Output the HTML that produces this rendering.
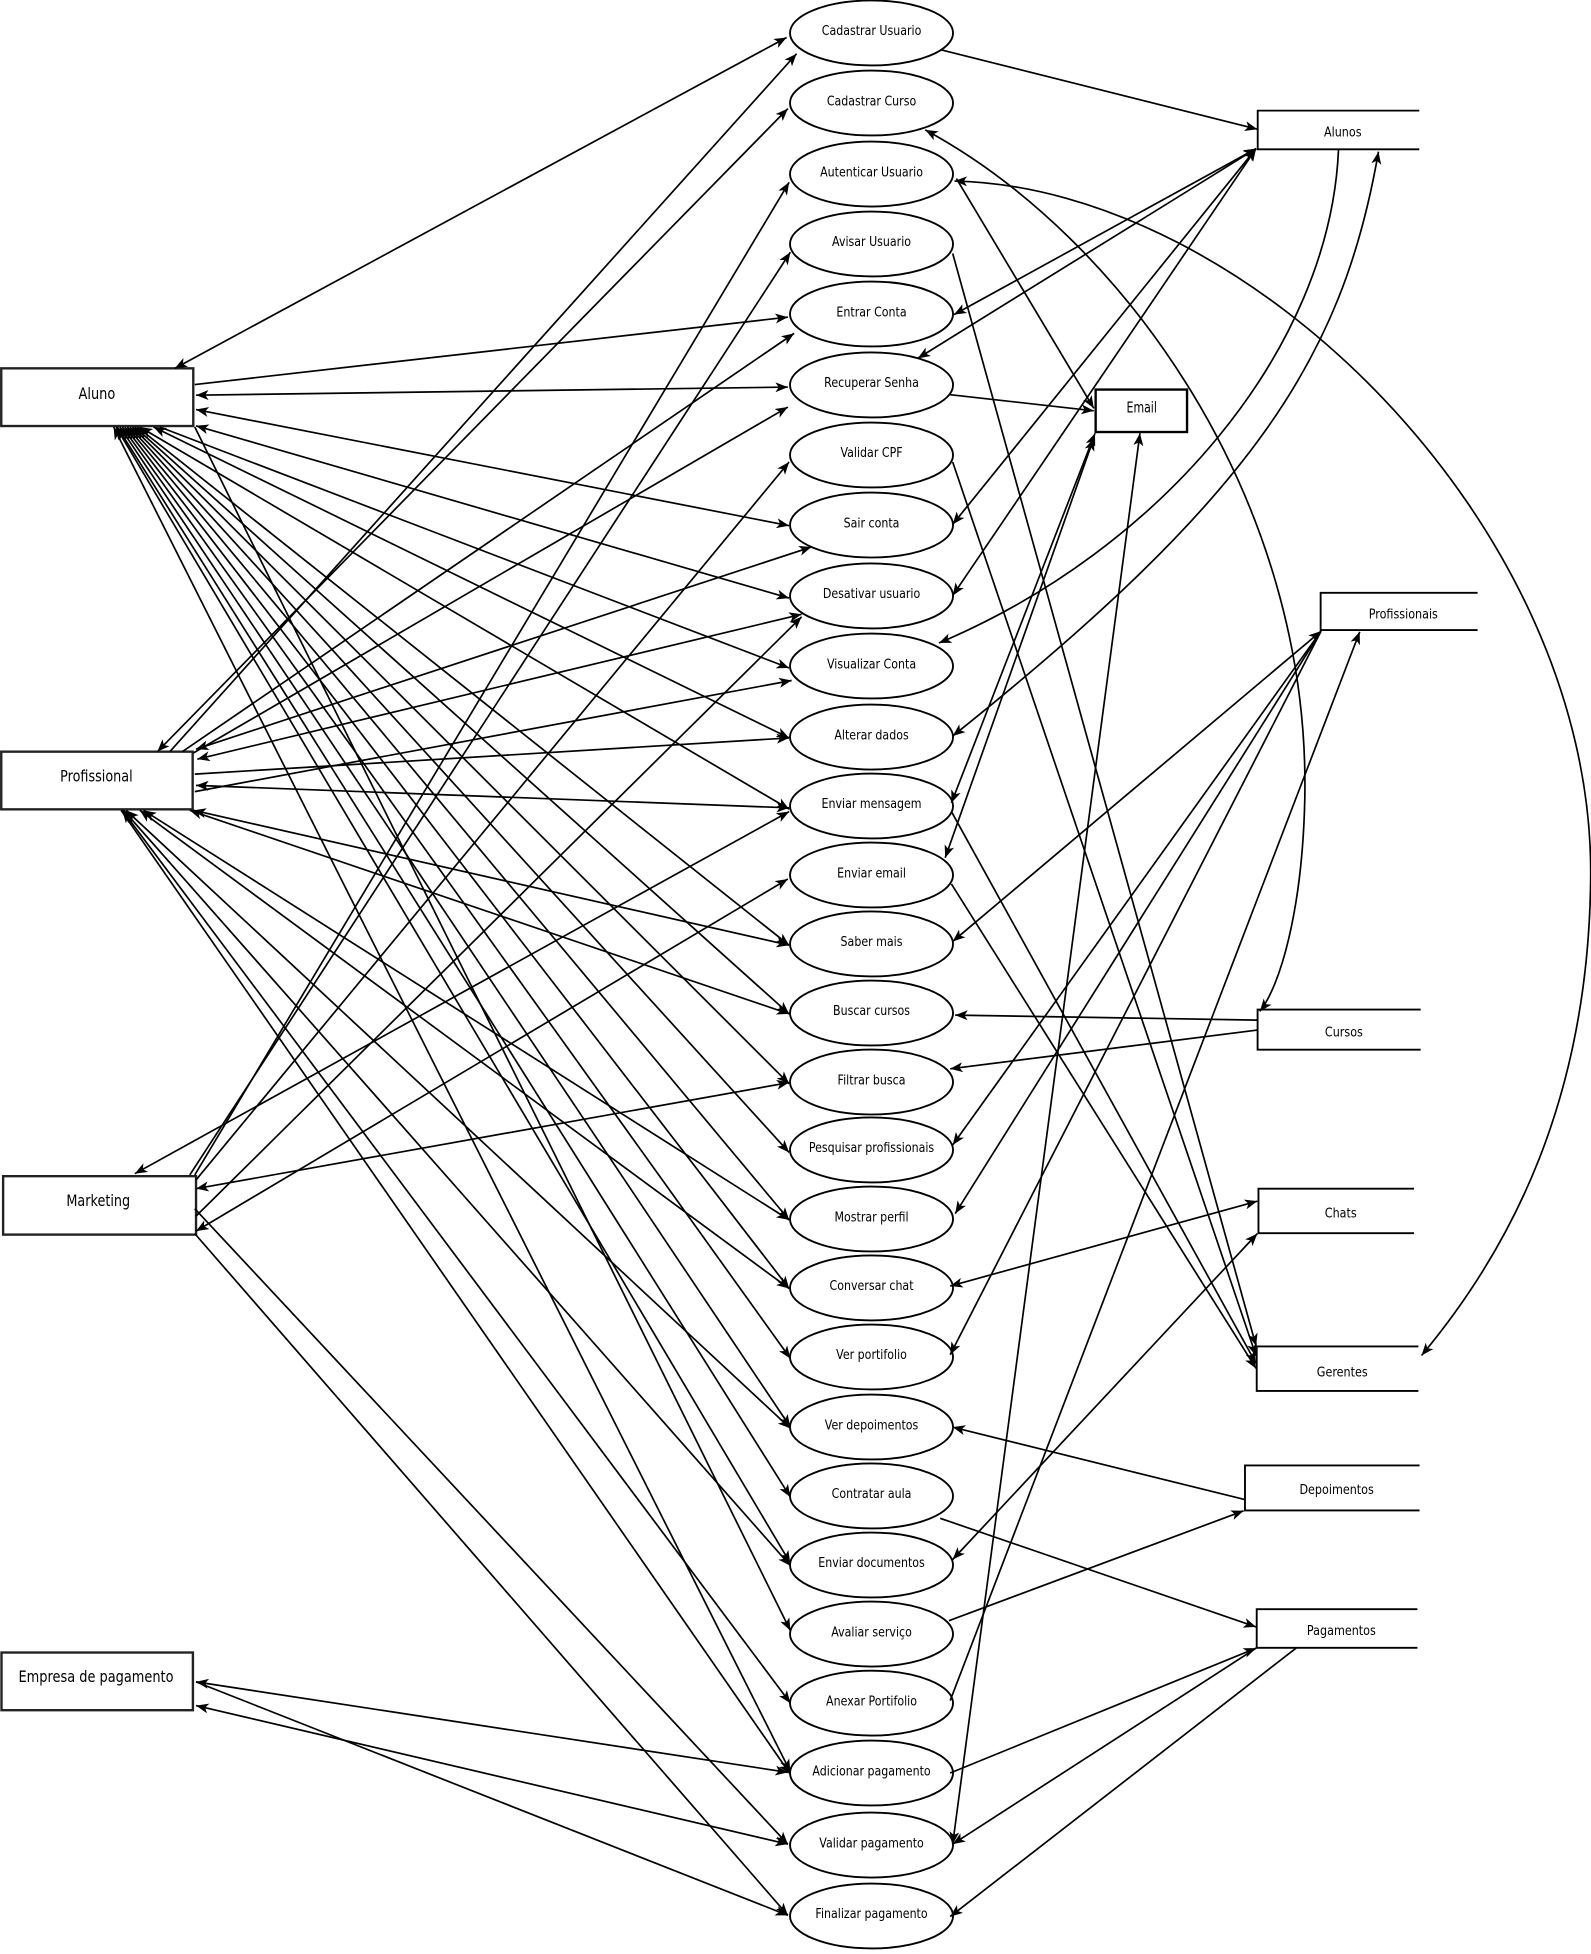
<!DOCTYPE html>
<html><head><meta charset="utf-8">
<style>
html,body{margin:0;padding:0;background:#fff;}
svg{display:block;}
.ln path{fill:none;stroke:#000;stroke-width:1.35;}
.b{marker-start:url(#ar);marker-end:url(#ar);}
.e{marker-end:url(#ar);}
.s{marker-start:url(#ar);}
.el ellipse{fill:#fff;stroke:#000;stroke-width:1.5;}
.act rect{fill:#fff;stroke:#222;stroke-width:1.9;}
.ds path{fill:none;stroke:#000;stroke-width:1.5;}
text{font-family:"DejaVu Sans","Liberation Sans",sans-serif;fill:#000;}
.tl text{font-size:10.4px;}
.ta text{font-size:12.8px;}
.tr text{font-size:10.4px;}
</style></head>
<body>
<svg width="1591" height="1954" viewBox="0 0 1591 1954" xmlns="http://www.w3.org/2000/svg">
<defs>
<marker id="ar" viewBox="0 0 10 8" refX="10" refY="4" markerWidth="10" markerHeight="8" markerUnits="userSpaceOnUse" orient="auto-start-reverse">
<path d="M0,0 L10,4 L0,8 L2.6,4 z" fill="#000"/>
</marker>
</defs>
<g transform="scale(1.2486)">

<!-- shapes -->
<g class="act">
<rect x="1" y="295" width="153.8" height="46.2"/>
<rect x="1" y="602" width="153.3" height="46.2"/>
<rect x="2.5" y="942" width="154.5" height="46.8"/>
<rect x="1.2" y="1323.5" width="153.3" height="46.2"/>
</g>
<g class="ta">
<text transform="translate(77.6,319.5) scale(0.81,1)" text-anchor="middle">Aluno</text>
<text transform="translate(77.2,626) scale(0.8,1)" text-anchor="middle">Profissional</text>
<text transform="translate(78.7,966) scale(0.8,1)" text-anchor="middle">Marketing</text>
<text transform="translate(76.9,1347) scale(0.81,1)" text-anchor="middle">Empresa de pagamento</text>
</g>

<g class="ds">
<path d="M1136.7,88.6 H1007.3 V119.6 H1136.7"/>
<path d="M1183.4,474.8 H1057.7 V504.6 H1183.4"/>
<path d="M1137.8,808.6 H1007.2 V840.7 H1137.8"/>
<path d="M1132.5,952 H1007.9 V987.7 H1132.5"/>
<path d="M1136,1078.4 H1006.5 V1114 H1136"/>
<path d="M1136.9,1173.7 H997.1 V1209.7 H1136.9"/>
<path d="M1135.2,1288.8 H1006.5 V1319.7 H1135.2"/>
<rect x="877.5" y="312" width="73.2" height="34" fill="#fff" stroke="#000" stroke-width="1.9"/>
</g>
<g class="tr">
<text transform="translate(1075.4,109.3) scale(0.86,1)" text-anchor="middle">Alunos</text>
<text transform="translate(1123.9,495.2) scale(0.86,1)" text-anchor="middle">Profissionais</text>
<text transform="translate(1076.3,830.3) scale(0.86,1)" text-anchor="middle">Cursos</text>
<text transform="translate(1073.8,975.1) scale(0.86,1)" text-anchor="middle">Chats</text>
<text transform="translate(1075,1102.4) scale(0.86,1)" text-anchor="middle">Gerentes</text>
<text transform="translate(1070.5,1196.6) scale(0.86,1)" text-anchor="middle">Depoimentos</text>
<text transform="translate(1074.3,1309.5) scale(0.86,1)" text-anchor="middle">Pagamentos</text>
<text transform="translate(914.4,330.5) scale(0.73,1)" text-anchor="middle" style="font-size:12px">Email</text>
</g>

<g class="el">
<ellipse cx="698" cy="26.4" rx="65.3" ry="26"/>
<ellipse cx="698" cy="82.5" rx="65.3" ry="26"/>
<ellipse cx="698" cy="139.4" rx="65.3" ry="26"/>
<ellipse cx="698" cy="195.4" rx="65.3" ry="26"/>
<ellipse cx="698" cy="251.5" rx="65.3" ry="26"/>
<ellipse cx="698" cy="308.3" rx="65.3" ry="26"/>
<ellipse cx="698" cy="364.4" rx="65.3" ry="26"/>
<ellipse cx="698" cy="420.5" rx="65.3" ry="26"/>
<ellipse cx="698" cy="477.3" rx="65.3" ry="26"/>
<ellipse cx="698" cy="533.4" rx="65.3" ry="26"/>
<ellipse cx="698" cy="590.3" rx="65.3" ry="26"/>
<ellipse cx="698" cy="645.5" rx="65.3" ry="26"/>
<ellipse cx="698" cy="700.8" rx="65.3" ry="26"/>
<ellipse cx="698" cy="756" rx="65.3" ry="26"/>
<ellipse cx="698" cy="811.3" rx="65.3" ry="26"/>
<ellipse cx="698" cy="866.6" rx="65.3" ry="26"/>
<ellipse cx="698" cy="921" rx="65.3" ry="26"/>
<ellipse cx="698" cy="976.3" rx="65.3" ry="26"/>
<ellipse cx="698" cy="1031.5" rx="65.3" ry="26"/>
<ellipse cx="698" cy="1086.8" rx="65.3" ry="26"/>
<ellipse cx="698" cy="1142.9" rx="65.3" ry="26"/>
<ellipse cx="698" cy="1198.1" rx="65.3" ry="26"/>
<ellipse cx="698" cy="1253.4" rx="65.3" ry="26"/>
<ellipse cx="698" cy="1308.7" rx="65.3" ry="26"/>
<ellipse cx="698" cy="1364" rx="65.3" ry="26"/>
<ellipse cx="698" cy="1420" rx="65.3" ry="26"/>
<ellipse cx="698" cy="1477.7" rx="65.3" ry="26"/>
<ellipse cx="698" cy="1534.5" rx="65.3" ry="26"/>
</g>
<g class="tl">
<text transform="translate(698,28.2) scale(0.85,1)" text-anchor="middle">Cadastrar Usuario</text>
<text transform="translate(698,84.3) scale(0.85,1)" text-anchor="middle">Cadastrar Curso</text>
<text transform="translate(698,141.2) scale(0.85,1)" text-anchor="middle">Autenticar Usuario</text>
<text transform="translate(698,197.2) scale(0.85,1)" text-anchor="middle">Avisar Usuario</text>
<text transform="translate(698,253.3) scale(0.85,1)" text-anchor="middle">Entrar Conta</text>
<text transform="translate(698,310.1) scale(0.85,1)" text-anchor="middle">Recuperar Senha</text>
<text transform="translate(698,366.2) scale(0.85,1)" text-anchor="middle">Validar CPF</text>
<text transform="translate(698,422.3) scale(0.85,1)" text-anchor="middle">Sair conta</text>
<text transform="translate(698,479.1) scale(0.85,1)" text-anchor="middle">Desativar usuario</text>
<text transform="translate(698,535.2) scale(0.85,1)" text-anchor="middle">Visualizar Conta</text>
<text transform="translate(698,592.1) scale(0.85,1)" text-anchor="middle">Alterar dados</text>
<text transform="translate(698,647.3) scale(0.85,1)" text-anchor="middle">Enviar mensagem</text>
<text transform="translate(698,702.6) scale(0.85,1)" text-anchor="middle">Enviar email</text>
<text transform="translate(698,757.8) scale(0.85,1)" text-anchor="middle">Saber mais</text>
<text transform="translate(698,813.1) scale(0.85,1)" text-anchor="middle">Buscar cursos</text>
<text transform="translate(698,868.4) scale(0.85,1)" text-anchor="middle">Filtrar busca</text>
<text transform="translate(698,922.8) scale(0.85,1)" text-anchor="middle">Pesquisar profissionais</text>
<text transform="translate(698,978.1) scale(0.85,1)" text-anchor="middle">Mostrar perfil</text>
<text transform="translate(698,1033.3) scale(0.85,1)" text-anchor="middle">Conversar chat</text>
<text transform="translate(698,1088.6) scale(0.85,1)" text-anchor="middle">Ver portifolio</text>
<text transform="translate(698,1144.7) scale(0.85,1)" text-anchor="middle">Ver depoimentos</text>
<text transform="translate(698,1199.9) scale(0.85,1)" text-anchor="middle">Contratar aula</text>
<text transform="translate(698,1255.2) scale(0.85,1)" text-anchor="middle">Enviar documentos</text>
<text transform="translate(698,1310.5) scale(0.85,1)" text-anchor="middle">Avaliar serviço</text>
<text transform="translate(698,1365.8) scale(0.85,1)" text-anchor="middle">Anexar Portifolio</text>
<text transform="translate(698,1421.8) scale(0.85,1)" text-anchor="middle">Adicionar pagamento</text>
<text transform="translate(698,1479.5) scale(0.85,1)" text-anchor="middle">Validar pagamento</text>
<text transform="translate(698,1536.3) scale(0.85,1)" text-anchor="middle">Finalizar pagamento</text>
</g>

<!-- connectors -->
<g class="ln">
<!-- Aluno -->
<path class="b" d="M140,295 L630,30"/>
<path class="e" d="M156,308 L631,254"/>
<path class="b" d="M157,316.5 L631,310"/>
<path class="b" d="M157,328 L632,421"/>
<path class="b" d="M157,341 L632,479"/>
<path class="e" d="M128,342 L632,535"/>
<path class="b" d="M123,342 L632,591"/>
<path class="b" d="M112,342 L632,648"/>
<path class="b" d="M110,342 L632,757"/>
<path class="b" d="M108,342 L632,812"/>
<path class="b" d="M106,342 L632,868"/>
<path class="b" d="M104,342 L632,923"/>
<path class="b" d="M102,342 L632,977"/>
<path class="b" d="M100,342 L632,1032"/>
<path class="b" d="M98,342 L633,1088"/>
<path class="b" d="M96,342 L633,1143"/>
<path class="b" d="M94,342 L633,1199"/>
<path class="b" d="M93,342 L633,1252"/>
<path class="e" d="M156,342 L633,1306"/>
<path class="b" d="M91,342 L633,1419"/>
<!-- Profissional -->
<path class="e" d="M136,602 L638,43"/>
<path class="b" d="M126,602 L631,87"/>
<path class="e" d="M146,602 L636,267"/>
<path class="e" d="M155,603 L631,326"/>
<path class="b" d="M157,600 L650,438"/>
<path class="b" d="M158,608 L642,492"/>
<path class="e" d="M156,620 L632,591"/>
<path class="b" d="M157,629 L632,647"/>
<path class="e" d="M156,634 L634,545"/>
<path class="b" d="M155,649 L632,757"/>
<path class="b" d="M152,649 L632,812"/>
<path class="b" d="M115,649 L632,977"/>
<path class="b" d="M112,649 L632,1032"/>
<path class="b" d="M101,649 L633,1144"/>
<path class="b" d="M99,649 L633,1254"/>
<path class="b" d="M98,649 L633,1364"/>
<path class="e" d="M97,649 L633,1421"/>
<!-- Marketing -->
<path class="e" d="M156,941 L632,146"/>
<path class="e" d="M152,941 L633,202"/>
<path class="e" d="M157,945 L632,370"/>
<path class="b" d="M108,940 L632,650"/>
<path class="b" d="M157,952 L632,867"/>
<path class="e" d="M157,974 L642,494"/>
<path class="b" d="M157,986 L631,704"/>
<path class="e" d="M156,968 L631,1477"/>
<path class="e" d="M156,988 L631,1534"/>
<!-- Empresa -->
<path class="b" d="M157,1347 L631,1419.5"/>
<path class="e" d="M157,1347 L631,1534"/>
<path class="b" d="M157,1366 L631,1477"/>

<!-- right side -->
<path class="e" d="M754,40 L1007,103.5"/>
<path class="b" d="M1006,119 L764,252"/>
<path class="b" d="M1006,119 L735,287"/>
<path class="b" d="M1006,119 L763,420"/>
<path class="b" d="M1006,119 L763,477"/>
<path class="e" d="M766,143 L876,327"/>
<path class="e" d="M760,316 L876,329"/>
<path class="b" d="M877,347 L762,643"/>
<path class="b" d="M876,351 L757,687"/>
<path class="b" d="M913,347 L763,1477"/>
<path class="e" d="M763,203 L1006,1078"/>
<path class="e" d="M763,370 L1006,1086"/>
<path class="e" d="M762,650 L1006,1092"/>
<path class="e" d="M762,708 L1006,1096"/>
<path class="b" d="M1058,505.5 L763,754"/>
<path class="e" d="M1058,505.5 L763,917"/>
<path class="e" d="M1058,505.5 L765,972"/>
<path class="e" d="M1058,505.5 L761,1085"/>
<path class="e" d="M761,1362 L1089,506"/>
<path class="e" d="M1007,817 L765,813"/>
<path class="e" d="M1007,825 L761,856"/>
<path class="b" d="M1007,962 L761,1030"/>
<path class="b" d="M1007,988 L763,1249"/>
<path class="e" d="M997,1201 L763,1143"/>
<path class="e" d="M760,1298 L996,1210"/>
<path class="e" d="M753,1216 L1006,1303"/>
<path class="e" d="M761,1420 L1006,1320"/>
<path class="e" d="M1006,1320 L763,1477"/>
<path class="e" d="M1038,1320 L761,1535"/>

<!-- curves -->
<path class="e" d="M1072,120 C1065,280 930,440 752,515"/>
<path class="b" d="M1104,121.5 C1075,290 1000,400 763,589.5"/>
<path class="b" d="M741,104 C900,190 1050,400 1045,640 C1043,730 1025,790 1009,810"/>
<path class="b" d="M764.5,145 C1000,150 1275,420 1274,700 C1273,880 1210,1000 1138.5,1085.6"/>
</g>
</g>
</svg>
</body></html>
